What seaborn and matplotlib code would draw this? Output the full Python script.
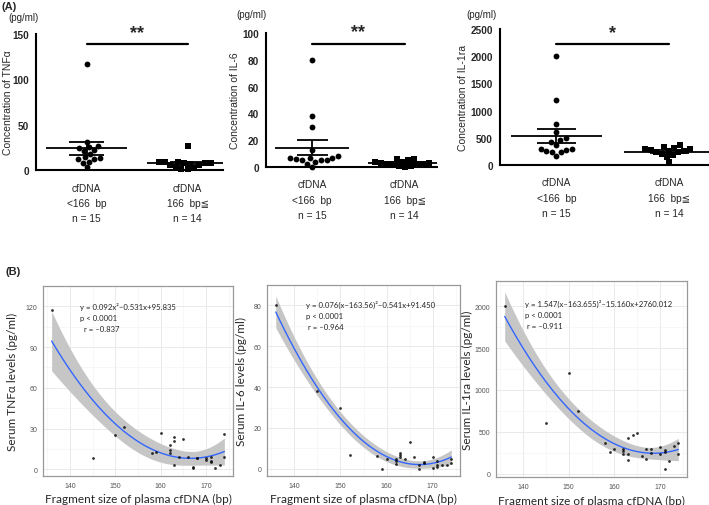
import numpy as np
import pandas as pd
import matplotlib
matplotlib.use("Agg")
import matplotlib.pyplot as plt
import seaborn as sns

# one entry per patient (n = 29)
fragment_bp = [136, 145, 150, 152, 158, 159, 160, 162, 162, 162, 163, 163, 163, 164, 165,
               166, 167, 167, 168, 168, 170, 170, 171, 171, 171, 172, 173, 174, 174]
tnfa = [117, 8, 25, 31, 12, 13, 27, 18, 14, 12, 24, 21, 3, 9, 22,
        9, 2, 1, 8, 8, 7, 8, 9, 6, 5, 1, 3, 26, 9]
il6 = [80, 38, 30, 7, 6.5, 0, 5, 5, 4, 2.5, 8, 7, 6, 5, 13,
       6, 2, 0, 3, 3.5, 6, 0.5, 4, 1, 2, 2, 2, 5, 3]
il1ra = [2000, 600, 1200, 750, 370, 260, 300, 300, 270, 240, 420, 240, 160, 460, 490,
         210, 290, 180, 290, 250, 320, 240, 280, 50, 260, 150, 330, 370, 240]

cutoff = 166
group_labels = ["cfDNA\n<166  bp\nn = 15", "cfDNA\n166  bp≦\nn = 14"]
stars = ["**", "**", "*"]
dot_ylabels = ["Concentration of TNFα", "Concentration of IL-6", "Concentration of IL-1ra"]
fit_ylabels = ["Serum TNFα levels (pg/ml)", "Serum IL-6 levels (pg/ml)", "Serum IL-1ra levels (pg/ml)"]
equations = ["y = 0.092x²–0.531x+95.835\np < 0.0001\n  r = –0.837",
             "y = 0.076(x–163.56)²–0.541x+91.450\np < 0.0001\n r = –0.964",
             "y = 1.547(x–163.655)²–15.160x+2760.012\np < 0.0001\n r = –0.911"]

T975 = 2.056  # t quantile, 26 df (like ggplot's lm band)

sns.set_style("white")
plt.rcParams["font.family"] = ["Liberation Sans", "DejaVu Sans", "Noto Sans CJK JP"]

W, H = 709, 506
fig = plt.figure(figsize=(W / 100, H / 100), dpi=100)


def box(l, t, r, b):
    return [l / W, 1 - b / H, (r - l) / W, (b - t) / H]


def quad_band(x, y, grid):
    x = np.asarray(x, float)
    y = np.asarray(y, float)
    X = np.column_stack([np.ones_like(x), x, x ** 2])
    beta, *_ = np.linalg.lstsq(X, y, rcond=None)
    resid = y - X @ beta
    s2 = resid @ resid / (len(x) - 3)
    cov = s2 * np.linalg.inv(X.T @ X)
    G = np.column_stack([np.ones_like(grid), grid, grid ** 2])
    fit = G @ beta
    se = np.sqrt(np.einsum("ij,jk,ik->i", G, cov, G))
    return fit - T975 * se, fit + T975 * se


# ---------- (A) dot plots with mean +/- SEM ----------
a_boxes = [box(36, 35, 223, 171), box(266, 34, 437, 168), box(500, 30, 709, 166)]
a_ylims = [(0, 150), (0, 100), (0, 2500)]
a_steps = [50, 20, 500]
a_bar = [139, 92, 2225]
a_star = [152, 101, 2440]
a_labx = [-0.123, -0.152, -0.153]

for i, vals in enumerate([tnfa, il6, il1ra]):
    ax = fig.add_axes(a_boxes[i])
    df = pd.DataFrame({"group": np.where(np.array(fragment_bp) < cutoff, "short", "long"),
                       "value": vals})
    for grp, mk in [("short", "o"), ("long", "s")]:
        sns.swarmplot(data=df[df.group == grp], x="group", y="value", order=["short", "long"],
                      marker=mk, color="black", size=4.2, ax=ax, clip_on=False, zorder=3)
    for pos, grp in enumerate(["short", "long"]):
        v = df.loc[df.group == grp, "value"]
        m, se = v.mean(), v.sem()
        ax.hlines(m, pos - 0.4, pos + 0.4, color="black", lw=1.3, zorder=4)
        ax.hlines([m - se, m + se], pos - 0.17, pos + 0.17, color="black", lw=1.3, zorder=4)
        ax.vlines(pos, m - se, m + se, color="black", lw=1.3, zorder=4)
    ax.plot([0, 1], [a_bar[i], a_bar[i]], color="black", lw=1.6, clip_on=False)
    ax.text(0.5, a_star[i], stars[i], ha="center", va="center", fontsize=13, fontweight="bold")
    ax.set_xlim(-0.5, 1.35)
    ax.set_ylim(*a_ylims[i])
    ax.set_yticks(np.arange(a_ylims[i][0], a_ylims[i][1] + 1, a_steps[i]))
    ax.set_xticks([0, 1])
    ax.set_xticklabels(group_labels, fontsize=7.3, linespacing=1.65)
    for t in ax.get_yticklabels():
        t.set_fontweight("bold")
        t.set_fontsize(7.2)
    ax.tick_params(axis="both", length=3, width=1.3, color="black", pad=2)
    ax.tick_params(axis="x", pad=6)
    for s in ["top", "right"]:
        ax.spines[s].set_visible(False)
    for s in ["left", "bottom"]:
        ax.spines[s].set_linewidth(1.5)
        ax.spines[s].set_color("black")
    ax.set_xlabel("")
    ax.set_ylabel(dot_ylabels[i], fontsize=7.5)
    ax.yaxis.set_label_coords(a_labx[i], 0.5)

fig.text(2 / W, 1 - 7 / H, "(A)", fontsize=8, fontweight="bold", va="center")
for x, y in [(8, 18), (236, 15), (466, 15)]:
    fig.text(x / W, 1 - y / H, "(pg/ml)", fontsize=7, va="center")

# ---------- (B) quadratic fits ----------
b_boxes = [box(43, 287, 233, 477), box(267, 286, 460, 477), box(496, 282, 687, 478)]
b_ylims = [(-5, 122), (-3.5, 88), (-40, 2300)]
b_steps = [30, 20, 500]
b_eq = [(0.195, 0.915), (0.2, 0.92), (0.15, 0.91)]
b_labx = [-0.13, -0.104, -0.12]
fam_b = ["Lato", "DejaVu Sans"]

for i, vals in enumerate([tnfa, il6, il1ra]):
    ax = fig.add_axes(b_boxes[i])
    ax.set_axisbelow(True)
    sns.regplot(x=fragment_bp, y=vals, order=2, ci=None, ax=ax,
                scatter_kws=dict(s=4, color="black", linewidths=0, zorder=3),
                line_kws=dict(color="#3366FF", lw=1.0, zorder=2))
    grid = np.linspace(min(fragment_bp), max(fragment_bp), 100)
    lo, hi = quad_band(fragment_bp, vals, grid)
    ax.fill_between(grid, lo, hi, color="#c6c6c6", lw=0, zorder=1)
    ax.set_xlim(134.1, 175.9)
    ax.set_ylim(*b_ylims[i])
    ax.set_xticks([140, 150, 160, 170])
    ax.set_xticks([135, 145, 155, 165, 175], minor=True)
    yt = np.arange(0, b_ylims[i][1], b_steps[i])
    ax.set_yticks(yt)
    ax.set_yticks(yt + b_steps[i] / 2, minor=True)
    ax.grid(True, which="major", color="#e6e6e6", lw=0.6)
    ax.grid(True, which="minor", color="#f2f2f2", lw=0.4)
    ax.tick_params(axis="both", which="major", labelsize=5, labelcolor="#555555",
                   length=2, color="#888888", pad=2)
    ax.tick_params(axis="both", which="minor", length=0)
    for s in ax.spines.values():
        s.set_color("#999999")
        s.set_linewidth(0.9)
    ax.set_xlabel("Fragment size of plasma cfDNA (bp)", fontsize=8.5, family=fam_b)
    ax.set_ylabel(fit_ylabels[i], fontsize=8.5, family=fam_b)
    ax.xaxis.set_label_coords(0.5, -0.09)
    ax.yaxis.set_label_coords(b_labx[i], 0.5)
    ax.text(*b_eq[i], equations[i], transform=ax.transAxes, fontsize=5.6, va="top",
            linespacing=1.65, family=fam_b)

fig.text(5 / W, 1 - 272 / H, "(B)", fontsize=8, fontweight="bold", va="center")

fig.savefig("out.png", dpi=100)
